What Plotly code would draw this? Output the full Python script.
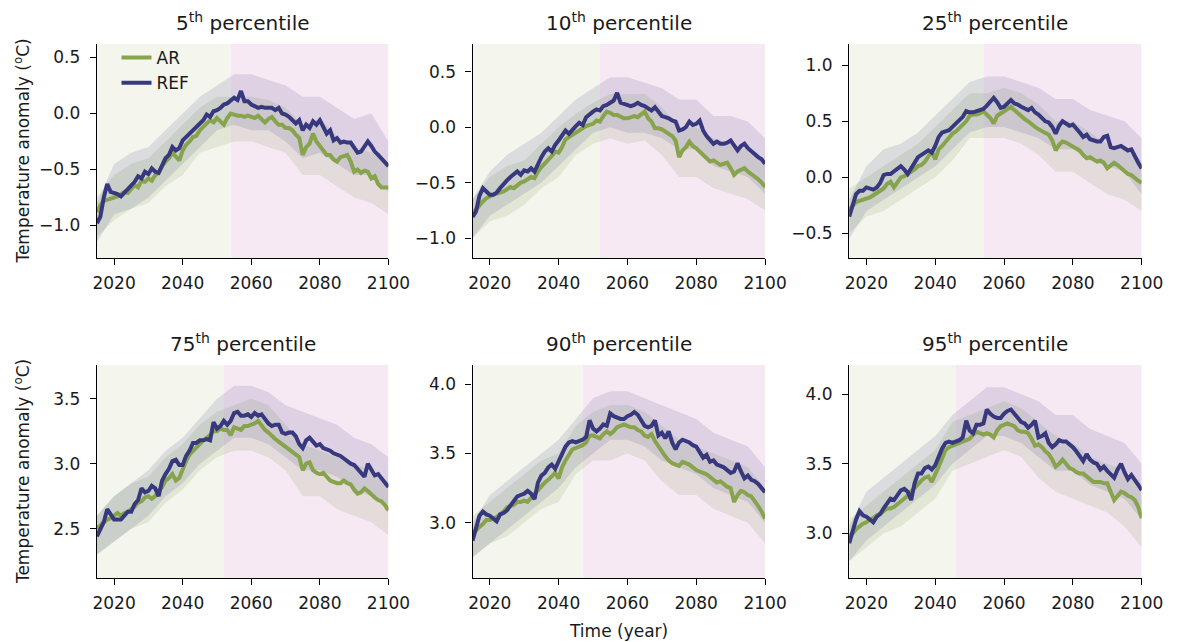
import plotly.graph_objects as go
from plotly.subplots import make_subplots

# ---------------------------------------------------------------- data
years = list(range(2015, 2101))
band_years = list(range(2015, 2101, 5))

titles = ["5<sup>th</sup> percentile", "10<sup>th</sup> percentile", "25<sup>th</sup> percentile",
          "75<sup>th</sup> percentile", "90<sup>th</sup> percentile", "95<sup>th</sup> percentile"]

# year where the shaded background switches from the first to the second period
split_years = [2054, 2052, 2054, 2052, 2047, 2046]

y_ranges = [[-1.29, 0.62], [-1.18, 0.75], [-0.72, 1.19],
            [2.12, 3.76], [2.60, 4.14], [2.68, 4.21]]
y_ticks = [[-1.0, -0.5, 0.0, 0.5], [-1.0, -0.5, 0.0, 0.5], [-0.5, 0.0, 0.5, 1.0],
           [2.5, 3.0, 3.5], [3.0, 3.5, 4.0], [3.0, 3.5, 4.0]]
x_ticks = [2020, 2040, 2060, 2080, 2100]

# ensemble-mean anomalies, one value per year 2015-2100
ar_p05 = [-0.88, -0.82, -0.78, -0.77, -0.76, -0.75, -0.74, -0.72, -0.70, -0.71,
          -0.67, -0.64, -0.66, -0.60, -0.61, -0.58, -0.60, -0.55, -0.53, -0.47,
          -0.43, -0.40, -0.35, -0.39, -0.42, -0.33, -0.28, -0.25, -0.21, -0.20,
          -0.15, -0.12, -0.09, -0.06, -0.08, -0.04, -0.07, -0.10, -0.04, 0.00,
          -0.01, -0.02, -0.02, -0.03, -0.02, -0.03, -0.04, -0.02, -0.05, -0.08,
          -0.05, -0.03, -0.07, -0.10, -0.10, -0.13, -0.13, -0.15, -0.19, -0.22,
          -0.37, -0.30, -0.27, -0.18, -0.25, -0.29, -0.33, -0.37, -0.37, -0.41,
          -0.43, -0.39, -0.38, -0.37, -0.43, -0.52, -0.50, -0.53, -0.51, -0.52,
          -0.58, -0.56, -0.63, -0.66, -0.66, -0.66]
ref_p05 = [-0.98, -0.92, -0.75, -0.63, -0.70, -0.71, -0.72, -0.74, -0.71, -0.68,
           -0.65, -0.61, -0.56, -0.58, -0.52, -0.54, -0.49, -0.52, -0.53, -0.46,
           -0.40, -0.37, -0.30, -0.33, -0.31, -0.24, -0.21, -0.19, -0.15, -0.13,
           -0.09, -0.06, -0.01, -0.03, 0.02, 0.03, 0.05, 0.08, 0.09, 0.11,
           0.14, 0.12, 0.20, 0.11, 0.11, 0.08, 0.06, 0.05, 0.06, 0.05,
           0.05, 0.05, 0.03, 0.05, 0.00, -0.01, -0.03, -0.06, -0.09, -0.06,
           -0.15, -0.10, -0.13, -0.07, -0.10, -0.06, -0.13, -0.18, -0.15, -0.24,
           -0.22, -0.26, -0.25, -0.26, -0.26, -0.30, -0.35, -0.34, -0.29, -0.25,
           -0.29, -0.34, -0.37, -0.40, -0.43, -0.47]

ar_p10 = [-0.78, -0.74, -0.70, -0.67, -0.64, -0.62, -0.61, -0.60, -0.59, -0.58,
          -0.56, -0.54, -0.55, -0.52, -0.50, -0.49, -0.47, -0.45, -0.46, -0.40,
          -0.36, -0.33, -0.29, -0.26, -0.22, -0.23, -0.18, -0.11, -0.09, -0.07,
          -0.04, -0.03, 0.00, 0.01, 0.02, 0.03, 0.06, 0.05, 0.10, 0.14,
          0.13, 0.11, 0.11, 0.09, 0.08, 0.08, 0.09, 0.10, 0.09, 0.12,
          0.14, 0.08, 0.05, -0.01, -0.01, -0.02, -0.04, -0.06, -0.08, -0.12,
          -0.27, -0.21, -0.18, -0.13, -0.17, -0.19, -0.22, -0.25, -0.28, -0.31,
          -0.30, -0.32, -0.34, -0.33, -0.32, -0.37, -0.43, -0.40, -0.38, -0.37,
          -0.40, -0.42, -0.45, -0.47, -0.50, -0.54]
ref_p10 = [-0.81, -0.76, -0.62, -0.55, -0.58, -0.61, -0.61, -0.59, -0.55, -0.51,
           -0.48, -0.45, -0.43, -0.40, -0.43, -0.39, -0.40, -0.37, -0.40, -0.33,
           -0.27, -0.22, -0.19, -0.22, -0.16, -0.12, -0.08, -0.03, -0.06, -0.02,
           0.01, 0.04, 0.02, 0.09, 0.12, 0.14, 0.16, 0.15, 0.19, 0.20,
           0.22, 0.24, 0.31, 0.22, 0.21, 0.20, 0.19, 0.20, 0.22, 0.20,
           0.19, 0.17, 0.15, 0.18, 0.14, 0.10, 0.09, 0.08, 0.06, 0.05,
           -0.03, -0.02, 0.00, 0.05, 0.02, 0.03, 0.06, -0.03, -0.08, -0.11,
           -0.15, -0.13, -0.15, -0.15, -0.14, -0.12, -0.16, -0.21, -0.17, -0.15,
           -0.19, -0.22, -0.25, -0.27, -0.29, -0.33]

ar_p25 = [-0.29, -0.25, -0.22, -0.21, -0.20, -0.19, -0.18, -0.16, -0.14, -0.12,
          -0.10, -0.06, -0.04, -0.09, -0.04, 0.00, 0.01, 0.03, 0.04, 0.07,
          0.10, 0.11, 0.14, 0.19, 0.23, 0.16, 0.25, 0.28, 0.32, 0.35,
          0.39, 0.41, 0.44, 0.48, 0.50, 0.55, 0.56, 0.56, 0.57, 0.59,
          0.56, 0.53, 0.48, 0.55, 0.57, 0.59, 0.61, 0.63, 0.60, 0.57,
          0.55, 0.52, 0.50, 0.47, 0.45, 0.43, 0.41, 0.40, 0.38, 0.33,
          0.24, 0.29, 0.32, 0.31, 0.29, 0.27, 0.25, 0.24, 0.20, 0.17,
          0.18, 0.16, 0.14, 0.15, 0.13, 0.08, 0.10, 0.13, 0.11, 0.08,
          0.05, 0.03, 0.02, -0.01, -0.03, -0.05]
ref_p25 = [-0.35, -0.24, -0.15, -0.12, -0.12, -0.09, -0.10, -0.11, -0.09, -0.05,
           0.02, 0.03, 0.03, 0.05, 0.07, 0.10, 0.07, 0.03, 0.08, 0.13,
           0.18, 0.20, 0.22, 0.24, 0.22, 0.28, 0.36, 0.40, 0.41, 0.42,
           0.45, 0.48, 0.50, 0.54, 0.59, 0.58, 0.58, 0.59, 0.60, 0.61,
           0.64, 0.67, 0.71, 0.67, 0.62, 0.63, 0.66, 0.69, 0.66, 0.65,
           0.63, 0.61, 0.60, 0.62, 0.58, 0.56, 0.53, 0.50, 0.49, 0.45,
           0.39, 0.46, 0.50, 0.48, 0.46, 0.47, 0.44, 0.40, 0.36, 0.38,
           0.34, 0.33, 0.32, 0.32, 0.36, 0.37, 0.27, 0.26, 0.27, 0.28,
           0.26, 0.24, 0.25, 0.18, 0.13, 0.08]

ar_p75 = [2.50, 2.53, 2.55, 2.57, 2.58, 2.60, 2.62, 2.60, 2.62, 2.63,
          2.65, 2.67, 2.70, 2.71, 2.74, 2.75, 2.73, 2.75, 2.79, 2.82,
          2.87, 2.89, 2.92, 2.87, 2.89, 2.96, 3.02, 3.07, 3.10, 3.13,
          3.16, 3.18, 3.20, 3.22, 3.25, 3.25, 3.27, 3.26, 3.26, 3.22,
          3.28, 3.27, 3.26, 3.29, 3.29, 3.30, 3.31, 3.33, 3.29, 3.26,
          3.24, 3.21, 3.19, 3.17, 3.15, 3.13, 3.11, 3.09, 3.07, 3.05,
          2.95, 3.00, 3.01, 2.95, 2.93, 2.92, 2.93, 2.90, 2.87, 2.86,
          2.85, 2.85, 2.87, 2.85, 2.84, 2.80, 2.77, 2.78, 2.81, 2.79,
          2.76, 2.74, 2.72, 2.71, 2.68, 2.64]
ref_p75 = [2.44, 2.49, 2.55, 2.65, 2.61, 2.57, 2.57, 2.57, 2.60, 2.63,
           2.63, 2.69, 2.72, 2.81, 2.78, 2.79, 2.83, 2.81, 2.75, 2.87,
           2.92, 2.96, 3.02, 3.03, 2.99, 2.99, 3.06, 3.10, 3.16, 3.16,
           3.18, 3.18, 3.19, 3.18, 3.32, 3.27, 3.29, 3.33, 3.30, 3.33,
           3.39, 3.40, 3.37, 3.37, 3.38, 3.36, 3.39, 3.37, 3.38, 3.34,
           3.31, 3.29, 3.30, 3.30, 3.24, 3.23, 3.24, 3.24, 3.21, 3.15,
           3.12, 3.18, 3.20, 3.17, 3.14, 3.15, 3.12, 3.11, 3.10, 3.08,
           3.07, 3.06, 3.04, 3.02, 3.00, 2.99, 2.96, 2.92, 2.90, 3.00,
           2.96, 2.91, 2.92, 2.89, 2.86, 2.82]

ar_p90 = [2.92, 2.95, 2.97, 2.99, 3.02, 3.02, 3.03, 3.04, 3.06, 3.08,
          3.11, 3.12, 3.13, 3.15, 3.15, 3.16, 3.15, 3.18, 3.21, 3.24,
          3.27, 3.29, 3.31, 3.34, 3.36, 3.32, 3.40, 3.45, 3.49, 3.53,
          3.54, 3.55, 3.56, 3.58, 3.63, 3.63, 3.62, 3.61, 3.64, 3.66,
          3.64, 3.66, 3.69, 3.70, 3.71, 3.70, 3.69, 3.69, 3.67, 3.66,
          3.63, 3.62, 3.64, 3.59, 3.55, 3.51, 3.48, 3.45, 3.43, 3.42,
          3.41, 3.44, 3.43, 3.42, 3.40, 3.38, 3.37, 3.36, 3.35, 3.33,
          3.31, 3.29, 3.30, 3.28, 3.26, 3.25, 3.15, 3.20, 3.23, 3.22,
          3.20, 3.19, 3.16, 3.12, 3.08, 3.03]
ref_p90 = [2.87, 2.95, 3.05, 3.08, 3.06, 3.05, 3.03, 3.01, 3.06, 3.07,
           3.09, 3.12, 3.15, 3.19, 3.20, 3.21, 3.23, 3.21, 3.17, 3.29,
           3.34, 3.36, 3.40, 3.42, 3.39, 3.44, 3.50, 3.55, 3.58, 3.59,
           3.58, 3.59, 3.60, 3.62, 3.74, 3.68, 3.66, 3.68, 3.71, 3.70,
           3.79, 3.77, 3.76, 3.75, 3.75, 3.77, 3.78, 3.80, 3.78, 3.74,
           3.70, 3.69, 3.70, 3.74, 3.63, 3.65, 3.61, 3.66, 3.58, 3.53,
           3.58, 3.60, 3.59, 3.58, 3.56, 3.55, 3.51, 3.47, 3.49, 3.44,
           3.45, 3.42, 3.41, 3.40, 3.38, 3.36, 3.37, 3.43, 3.37, 3.32,
           3.34, 3.31, 3.30, 3.28, 3.25, 3.22]

ar_p95 = [2.98, 3.00, 3.03, 3.05, 3.07, 3.08, 3.10, 3.11, 3.13, 3.14,
          3.16, 3.18, 3.18, 3.19, 3.21, 3.23, 3.25, 3.27, 3.30, 3.33,
          3.36, 3.38, 3.40, 3.41, 3.37, 3.42, 3.48, 3.54, 3.60, 3.62,
          3.63, 3.64, 3.65, 3.66, 3.67, 3.68, 3.71, 3.73, 3.72, 3.71,
          3.72, 3.71, 3.69, 3.74, 3.77, 3.78, 3.79, 3.78, 3.77, 3.74,
          3.73, 3.73, 3.72, 3.68, 3.63, 3.64, 3.62, 3.59, 3.57, 3.53,
          3.48, 3.50, 3.53, 3.50, 3.47, 3.46, 3.44, 3.43, 3.43, 3.41,
          3.39, 3.37, 3.37, 3.37, 3.36, 3.36, 3.30, 3.24, 3.27, 3.30,
          3.29, 3.27, 3.26, 3.24, 3.19, 3.11]
ref_p95 = [2.93, 3.02, 3.10, 3.16, 3.13, 3.12, 3.10, 3.08, 3.12, 3.14,
           3.18, 3.21, 3.25, 3.24, 3.28, 3.31, 3.32, 3.30, 3.24, 3.36,
           3.43, 3.43, 3.47, 3.48, 3.46, 3.49, 3.55, 3.61, 3.65, 3.66,
           3.65, 3.66, 3.67, 3.69, 3.81, 3.74, 3.72, 3.78, 3.78, 3.79,
           3.89, 3.86, 3.84, 3.83, 3.83, 3.86, 3.88, 3.89, 3.86, 3.83,
           3.80, 3.79, 3.76, 3.78, 3.81, 3.69, 3.70, 3.72, 3.65, 3.62,
           3.64, 3.67, 3.66, 3.66, 3.64, 3.62, 3.59, 3.55, 3.52, 3.57,
           3.53, 3.51, 3.50, 3.46, 3.48, 3.45, 3.42, 3.40, 3.46, 3.50,
           3.44, 3.39, 3.42, 3.39, 3.35, 3.31]

# spread of the individual ensemble members (low / high envelope every 5 years)
ar_p05_lo = [-1.10, -0.95, -0.85, -0.80, -0.65, -0.55, -0.35, -0.30, -0.25, -0.25, -0.30, -0.35, -0.55, -0.55, -0.65, -0.75, -0.80, -0.90]
ar_p05_hi = [-0.75, -0.55, -0.45, -0.40, -0.25, -0.10, 0.05, 0.15, 0.15, 0.15, 0.12, 0.05, -0.10, -0.05, -0.20, -0.30, -0.35, -0.45]
ref_p05_lo = [-1.15, -0.90, -0.85, -0.75, -0.60, -0.45, -0.30, -0.15, -0.10, -0.15, -0.15, -0.25, -0.40, -0.35, -0.45, -0.55, -0.55, -0.70]
ref_p05_hi = [-0.80, -0.45, -0.35, -0.30, -0.15, 0.00, 0.15, 0.25, 0.35, 0.35, 0.30, 0.25, 0.15, 0.15, 0.05, -0.05, 0.00, -0.25]

ar_p10_lo = [-1.00, -0.85, -0.80, -0.70, -0.55, -0.45, -0.25, -0.15, -0.10, -0.15, -0.12, -0.25, -0.45, -0.45, -0.55, -0.60, -0.65, -0.75]
ar_p10_hi = [-0.65, -0.45, -0.35, -0.30, -0.15, 0.00, 0.12, 0.22, 0.30, 0.30, 0.30, 0.18, 0.00, 0.00, -0.10, -0.15, -0.20, -0.30]
ref_p10_lo = [-1.00, -0.80, -0.70, -0.60, -0.50, -0.35, -0.20, -0.05, 0.00, -0.05, -0.05, -0.10, -0.20, -0.20, -0.35, -0.40, -0.45, -0.60]
ref_p10_hi = [-0.65, -0.40, -0.25, -0.15, -0.05, 0.10, 0.25, 0.35, 0.45, 0.45, 0.40, 0.35, 0.25, 0.25, 0.10, 0.10, 0.05, -0.10]

ar_p25_lo = [-0.50, -0.35, -0.30, -0.20, -0.10, 0.00, 0.15, 0.35, 0.35, 0.35, 0.30, 0.20, 0.05, 0.05, -0.05, -0.15, -0.20, -0.30]
ar_p25_hi = [-0.10, 0.00, 0.10, 0.20, 0.30, 0.45, 0.60, 0.75, 0.75, 0.80, 0.75, 0.65, 0.50, 0.50, 0.40, 0.30, 0.25, 0.15]
ref_p25_lo = [-0.55, -0.30, -0.20, -0.10, 0.00, 0.10, 0.25, 0.40, 0.45, 0.45, 0.40, 0.35, 0.25, 0.25, 0.15, 0.10, 0.05, -0.15]
ref_p25_hi = [-0.20, 0.10, 0.25, 0.30, 0.40, 0.55, 0.70, 0.85, 0.90, 0.90, 0.85, 0.80, 0.70, 0.70, 0.60, 0.55, 0.50, 0.35]

ar_p75_lo = [2.30, 2.40, 2.50, 2.55, 2.70, 2.80, 2.95, 3.05, 3.10, 3.10, 3.05, 2.95, 2.75, 2.75, 2.65, 2.60, 2.55, 2.45]
ar_p75_hi = [2.60, 2.75, 2.85, 2.90, 3.05, 3.15, 3.30, 3.40, 3.45, 3.50, 3.45, 3.30, 3.15, 3.10, 3.05, 3.00, 2.95, 2.85]
ref_p75_lo = [2.30, 2.40, 2.50, 2.60, 2.75, 2.85, 3.00, 3.10, 3.20, 3.20, 3.15, 3.05, 2.95, 2.95, 2.90, 2.80, 2.75, 2.65]
ref_p75_hi = [2.60, 2.75, 2.85, 2.95, 3.10, 3.20, 3.35, 3.50, 3.60, 3.60, 3.55, 3.45, 3.40, 3.35, 3.30, 3.20, 3.15, 3.05]

ar_p90_lo = [2.75, 2.85, 2.90, 3.00, 3.10, 3.15, 3.35, 3.45, 3.45, 3.50, 3.45, 3.30, 3.20, 3.20, 3.10, 3.05, 3.00, 2.85]
ar_p90_hi = [3.05, 3.15, 3.25, 3.35, 3.45, 3.50, 3.70, 3.80, 3.85, 3.85, 3.80, 3.70, 3.60, 3.55, 3.50, 3.45, 3.40, 3.25]
ref_p90_lo = [2.75, 2.85, 2.95, 3.05, 3.15, 3.25, 3.40, 3.50, 3.60, 3.60, 3.55, 3.45, 3.40, 3.35, 3.25, 3.20, 3.15, 3.00]
ref_p90_hi = [3.00, 3.20, 3.30, 3.40, 3.50, 3.60, 3.75, 3.90, 3.95, 3.95, 3.90, 3.85, 3.80, 3.75, 3.65, 3.60, 3.55, 3.40]

ar_p95_lo = [2.80, 2.90, 3.00, 3.05, 3.15, 3.25, 3.45, 3.50, 3.55, 3.60, 3.55, 3.40, 3.30, 3.25, 3.20, 3.15, 3.05, 2.90]
ar_p95_hi = [3.10, 3.20, 3.30, 3.40, 3.50, 3.60, 3.80, 3.85, 3.90, 3.95, 3.90, 3.80, 3.70, 3.65, 3.55, 3.50, 3.45, 3.30]
ref_p95_lo = [2.80, 2.95, 3.05, 3.15, 3.25, 3.35, 3.50, 3.60, 3.70, 3.70, 3.65, 3.55, 3.45, 3.45, 3.35, 3.30, 3.25, 3.10]
ref_p95_hi = [3.05, 3.30, 3.40, 3.50, 3.60, 3.70, 3.85, 3.95, 4.05, 4.05, 4.00, 3.95, 3.85, 3.85, 3.75, 3.70, 3.65, 3.50]

ar_means = [ar_p05, ar_p10, ar_p25, ar_p75, ar_p90, ar_p95]
ref_means = [ref_p05, ref_p10, ref_p25, ref_p75, ref_p90, ref_p95]
ar_lo = [ar_p05_lo, ar_p10_lo, ar_p25_lo, ar_p75_lo, ar_p90_lo, ar_p95_lo]
ar_hi = [ar_p05_hi, ar_p10_hi, ar_p25_hi, ar_p75_hi, ar_p90_hi, ar_p95_hi]
ref_lo = [ref_p05_lo, ref_p10_lo, ref_p25_lo, ref_p75_lo, ref_p90_lo, ref_p95_lo]
ref_hi = [ref_p05_hi, ref_p10_hi, ref_p25_hi, ref_p75_hi, ref_p90_hi, ref_p95_hi]

for s in ar_means + ref_means:
    assert len(s) == len(years), len(s)
for s in ar_lo + ar_hi + ref_lo + ref_hi:
    assert len(s) == len(band_years), len(s)

# ---------------------------------------------------------------- style
W, H = 1195, 642
AR_COLOR = "#87a34b"
REF_COLOR = "#37387d"
AR_BAND = "rgba(140,158,100,0.18)"
REF_BAND = "rgba(90,90,145,0.16)"
EARLY_BG = "#f4f6ee"
LATE_BG = "#f7e9f4"
INK = "#1a1a1a"
FONT = "DejaVu Sans"
TICK_SIZE = 17
TITLE_SIZE = 20

# panel boxes in pixels (left, right) and (top, bottom)
col_px = [(95, 393), (479, 778), (864, 1163)]
row_px = [(44, 258), (365, 578)]

fig = make_subplots(rows=2, cols=3)

for i in range(6):
    r, c = divmod(i, 3)
    row, col = r + 1, c + 1

    # ensemble spread
    for lo, hi, fill in ((ar_lo[i], ar_hi[i], AR_BAND), (ref_lo[i], ref_hi[i], REF_BAND)):
        fig.add_trace(go.Scatter(x=band_years, y=lo, mode="lines", line=dict(width=0),
                                 showlegend=False, hoverinfo="skip"), row=row, col=col)
        fig.add_trace(go.Scatter(x=band_years, y=hi, mode="lines", line=dict(width=0),
                                 fill="tonexty", fillcolor=fill,
                                 showlegend=False, hoverinfo="skip"), row=row, col=col)

    # ensemble means
    fig.add_trace(go.Scatter(x=years, y=ar_means[i], mode="lines", name="AR",
                             line=dict(color=AR_COLOR, width=4),
                             showlegend=(i == 0)), row=row, col=col)
    fig.add_trace(go.Scatter(x=years, y=ref_means[i], mode="lines", name="REF",
                             line=dict(color=REF_COLOR, width=4),
                             showlegend=(i == 0)), row=row, col=col)

    # background periods
    xref = "x" if i == 0 else f"x{i + 1}"
    yref = "y domain" if i == 0 else f"y{i + 1} domain"
    fig.add_shape(type="rect", xref=xref, yref=yref, x0=2015, x1=split_years[i], y0=0, y1=1,
                  fillcolor=EARLY_BG, line=dict(width=0), layer="below")
    fig.add_shape(type="rect", xref=xref, yref=yref, x0=split_years[i], x1=2100, y0=0, y1=1,
                  fillcolor=LATE_BG, line=dict(width=0), layer="below")

    (x0, x1), (y0, y1) = col_px[c], row_px[r]
    xa = "xaxis" if i == 0 else f"xaxis{i + 1}"
    ya = "yaxis" if i == 0 else f"yaxis{i + 1}"
    axis_common = dict(showgrid=False, zeroline=False, showline=True, linecolor="black",
                       linewidth=1.4, ticks="outside", ticklen=6, tickwidth=1.3,
                       tickcolor="black", tickfont=dict(family=FONT, size=TICK_SIZE, color=INK),
                       mirror=False)
    fig.layout[xa].update(domain=[x0 / W, x1 / W], range=[2015, 2100], tickvals=x_ticks,
                          ticklabelstandoff=3, **axis_common)
    fig.layout[ya].update(domain=[1 - y1 / H, 1 - y0 / H], range=y_ranges[i],
                          tickvals=y_ticks[i], tickformat=".1f", ticklabelstandoff=6,
                          **axis_common)

    # panel title
    fig.add_annotation(text=titles[i], x=(x0 + x1) / 2 / W, y=1 - (y0 - 22) / H,
                       xref="paper", yref="paper", showarrow=False,
                       font=dict(family=FONT, size=TITLE_SIZE, color=INK),
                       xanchor="center", yanchor="middle")

# shared axis labels
for (y0, y1) in row_px:
    fig.add_annotation(text="Temperature anomaly (<sup>o</sup>C)", textangle=-90,
                       x=18 / W, y=1 - (y0 + y1) / 2 / H, xref="paper", yref="paper",
                       showarrow=False, xanchor="center", yanchor="middle",
                       font=dict(family=FONT, size=TICK_SIZE, color=INK))
fig.add_annotation(text="Time (year)", x=(col_px[1][0] + col_px[1][1]) / 2 / W, y=1 - 631 / H,
                   xref="paper", yref="paper", showarrow=False,
                   xanchor="center", yanchor="middle",
                   font=dict(family=FONT, size=TICK_SIZE, color=INK))

fig.update_layout(
    width=W, height=H,
    margin=dict(l=0, r=0, t=0, b=0),
    paper_bgcolor="white", plot_bgcolor="white",
    font=dict(family=FONT, size=TICK_SIZE, color=INK),
    legend=dict(x=115 / W, y=1 - 40 / H, xanchor="left", yanchor="top",
                traceorder="normal", bgcolor="rgba(0,0,0,0)",
                font=dict(family=FONT, size=TICK_SIZE, color=INK),
                tracegroupgap=0, itemwidth=30),
    showlegend=True,
)

fig.write_html("out.html")
